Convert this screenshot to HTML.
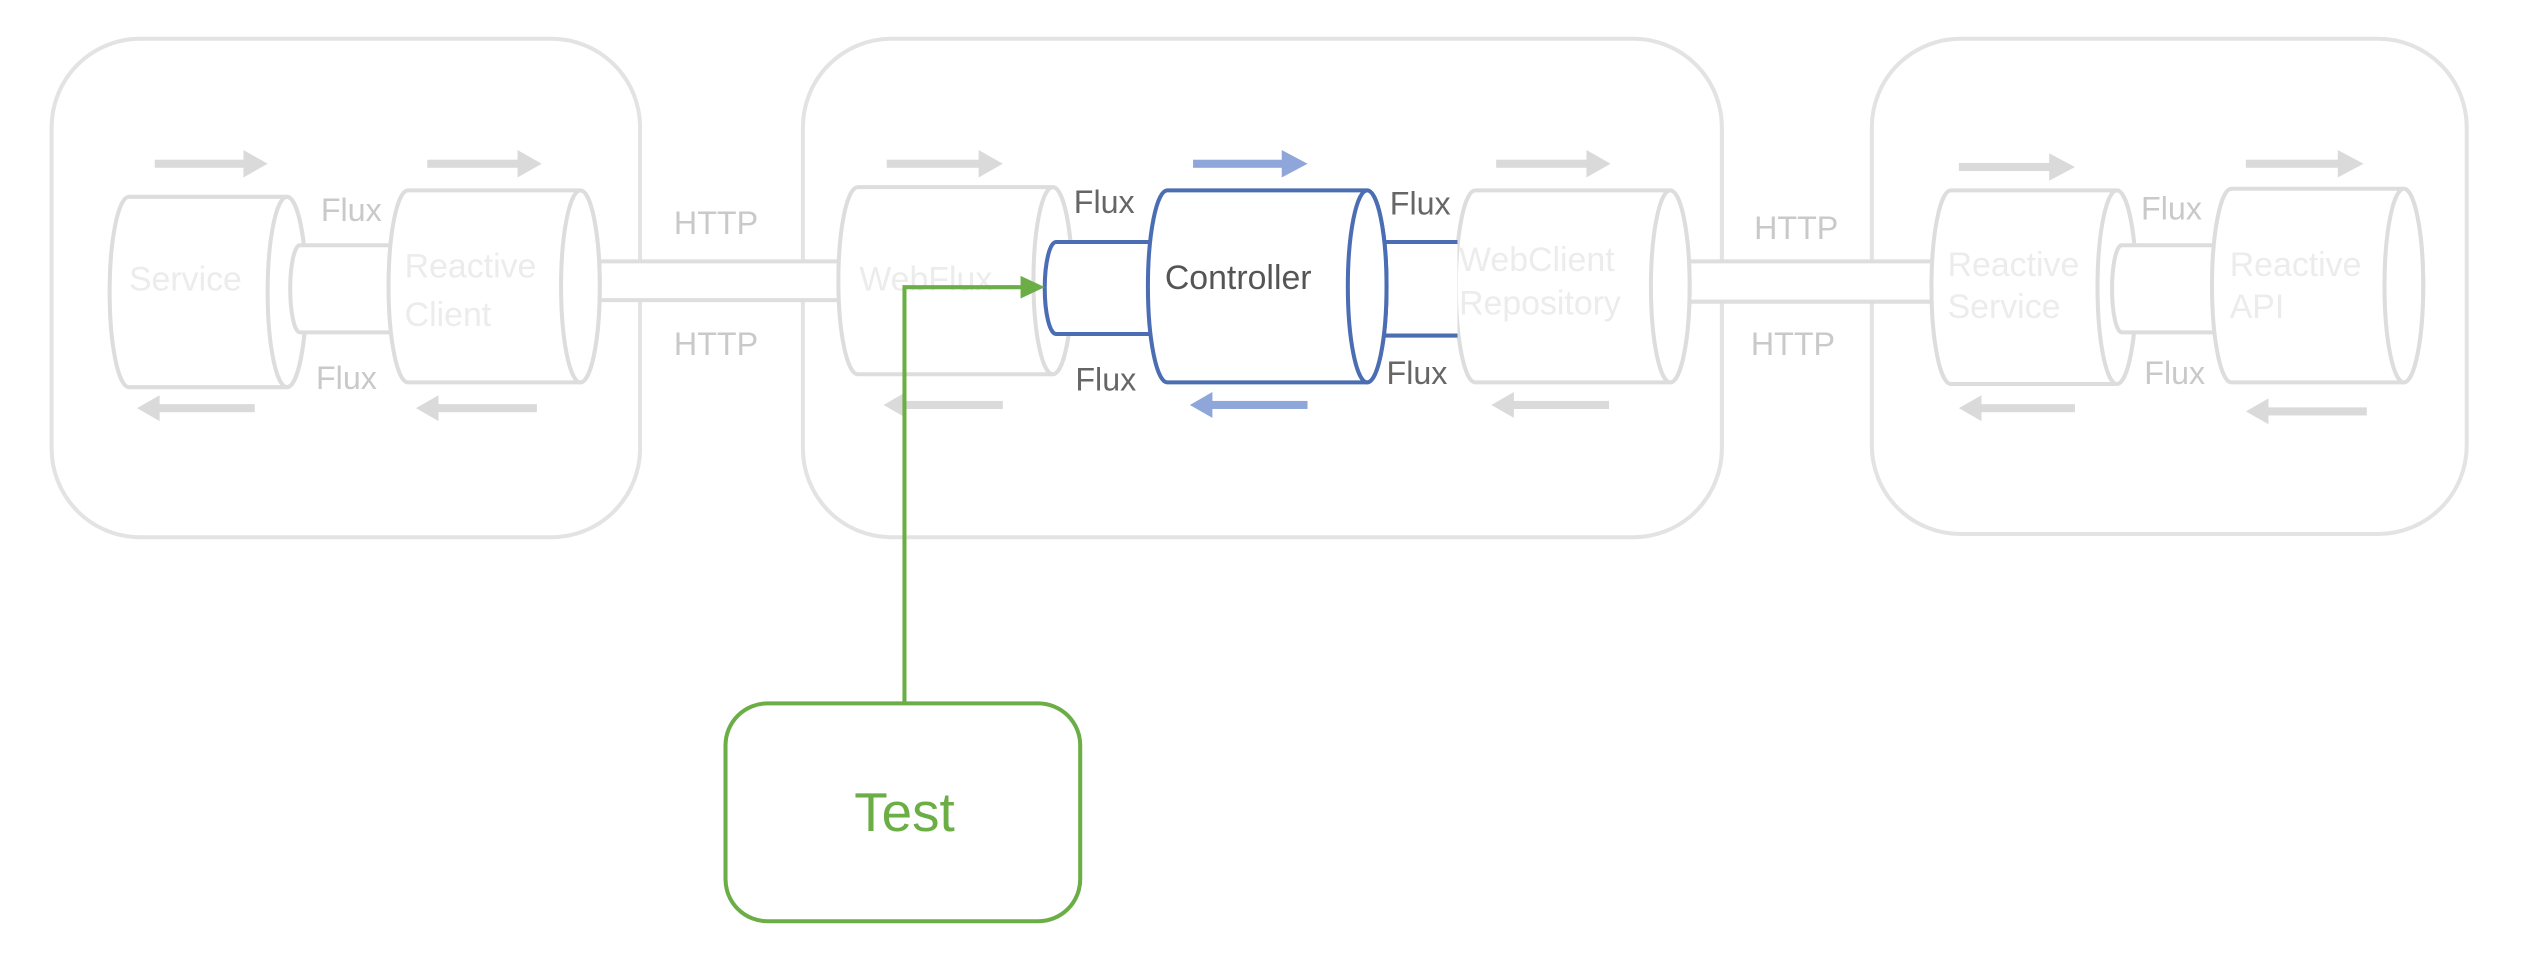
<!DOCTYPE html>
<html><head><meta charset="utf-8"><style>
html,body{margin:0;padding:0;background:#fff;}
svg{display:block;}
text{font-family:"Liberation Sans","DejaVu Sans",sans-serif;}
</style></head><body>
<svg width="2528" height="968" viewBox="0 0 1568 600" preserveAspectRatio="none" xmlns="http://www.w3.org/2000/svg">
<rect width="1568" height="600" fill="#fff"/>
<g fill="none" stroke="#e3e3e3" stroke-width="2.5">
<rect x="32" y="24" width="365" height="309" rx="55"/>
<rect x="498" y="24" width="570" height="309" rx="55"/>
<rect x="1161" y="24" width="369" height="307" rx="55"/>
</g>
<!-- HTTP pipes -->
<g fill="#fff" stroke="#dedede" stroke-width="2.5">
<path d="M364,162 L525,162 L525,186 L364,186 A5,12 0 0 1 364,162 Z"/>
<path d="M1039,162 L1202,162 L1202,187 L1039,187 A5,12.5 0 0 1 1039,162 Z"/>
</g>
<!-- gray cylinders -->
<g fill="#fff" stroke="#dddddd" stroke-width="2.5">
<path d="M80,122 L178,122 A12,59 0 0 1 178,240 L80,240 A12,59 0 0 1 80,122 Z"/><ellipse cx="178" cy="181" rx="12" ry="59"/>
<path d="M186,152 L245,152 L245,206 L186,206 A6,27 0 0 1 186,152 Z"/>
<path d="M253,118 L360,118 A12,59.5 0 0 1 360,237 L253,237 A12,59.5 0 0 1 253,118 Z"/><ellipse cx="360" cy="177.5" rx="12" ry="59.5"/>
<path d="M532,116 L653,116 A12,58 0 0 1 653,232 L532,232 A12,58 0 0 1 532,116 Z"/><ellipse cx="653" cy="174" rx="12" ry="58"/>
<path d="M915,118 L1036,118 A12,59.5 0 0 1 1036,237 L915,237 A12,59.5 0 0 1 915,118 Z"/><ellipse cx="1036" cy="177.5" rx="12" ry="59.5"/>
<path d="M1210,118 L1313,118 A12,60 0 0 1 1313,238 L1210,238 A12,60 0 0 1 1210,118 Z"/><ellipse cx="1313" cy="178" rx="12" ry="60"/>
<path d="M1316,152 L1378,152 L1378,206 L1316,206 A6,27 0 0 1 1316,152 Z"/>
<path d="M1384,117 L1491,117 A12,60 0 0 1 1491,237 L1384,237 A12,60 0 0 1 1384,117 Z"/><ellipse cx="1491" cy="177" rx="12" ry="60"/>
</g>
<!-- blue -->
<g fill="#fff" stroke="#4a6db3" stroke-width="2.5">
<path d="M655,150 L716,150 L716,207 L655,207 A7,28.5 0 0 1 655,150 Z"/>
<path d="M850,150 L904,150 L904,208 L850,208 A7,29 0 0 1 850,150 Z" stroke="none"/>
<path d="M904,150 L850,150 A7,29 0 0 0 850,208 L904,208" fill="none"/>
<path d="M724,118 L848,118 A12,59.5 0 0 1 848,237 L724,237 A12,59.5 0 0 1 724,118 Z"/><ellipse cx="848" cy="177.5" rx="12" ry="59.5"/>
</g>
<!-- gray arrows -->
<g fill="#dadada">
<rect x="96" y="99" width="56" height="5"/><polygon points="151,93 166,101.5 151,110"/>
<rect x="265" y="99" width="57" height="5"/><polygon points="321,93 336,101.5 321,110"/>
<polygon points="85,253 99,245 99,261"/><rect x="98" y="250.5" width="60" height="5"/>
<polygon points="258,253 272,245 272,261"/><rect x="271" y="250.5" width="62" height="5"/>
<rect x="550" y="99" width="58" height="5"/><polygon points="607,93 622,101.5 607,110"/>
<rect x="928" y="99" width="57" height="5"/><polygon points="984,93 999,101.5 984,110"/>
<polygon points="548,251 562,243 562,259"/><rect x="561" y="248.5" width="61" height="5"/>
<polygon points="925,251 939,243 939,259"/><rect x="938" y="248.5" width="60" height="5"/>
<rect x="1215" y="101" width="57" height="5"/><polygon points="1271,95 1287,103.5 1271,112"/>
<rect x="1393" y="99" width="58" height="5"/><polygon points="1450,93 1466,101.5 1450,110"/>
<polygon points="1215,253 1229,245 1229,261"/><rect x="1228" y="250.5" width="59" height="5"/>
<polygon points="1393,255 1407,247 1407,263"/><rect x="1406" y="252.5" width="62" height="5"/>
</g>
<g fill="#8ea6da">
<rect x="740" y="99" width="56" height="5"/><polygon points="795,93 811,101.5 795,110"/>
<polygon points="738,251 752,243 752,259"/><rect x="751" y="248.5" width="60" height="5"/>
</g>
<!-- labels -->
<g fill="#c9c9c9" font-size="20">
<text x="199" y="137">Flux</text><text x="196" y="241">Flux</text>
<text x="418" y="145">HTTP</text><text x="418" y="220">HTTP</text>
<text x="1088" y="148">HTTP</text><text x="1086" y="220">HTTP</text>
<text x="1328" y="136">Flux</text><text x="1330" y="238">Flux</text>
</g>
<g fill="#666" font-size="20">
<text x="666" y="132">Flux</text><text x="667" y="242">Flux</text>
<text x="862" y="133">Flux</text><text x="860" y="238">Flux</text>
</g>
<g fill="#ececec" font-size="21">
<text x="80" y="180">Service</text>
<text x="251" y="172">Reactive</text><text x="251" y="202">Client</text>
<text x="533" y="180">WebFlux</text>
<text x="905" y="168">WebClient</text><text x="905" y="195">Repository</text>
<text x="1208" y="171">Reactive</text><text x="1208" y="197">Service</text>
<text x="1383" y="171">Reactive</text><text x="1383" y="197">API</text>
</g>
<text x="768" y="179" fill="#555" font-size="21" text-anchor="middle">Controller</text>
<!-- green -->
<path d="M561,436 L561,178 L637,178" fill="none" stroke="#6aae45" stroke-width="2.5"/>
<polygon points="633,171 648,178 633,185" fill="#6aae45"/>
<rect x="450" y="436" width="220" height="135" rx="26" fill="#fff" stroke="#6aae45" stroke-width="2.5"/>
<text x="561" y="515" fill="#6aae45" font-size="34" text-anchor="middle">Test</text>
</svg>
</body></html>
